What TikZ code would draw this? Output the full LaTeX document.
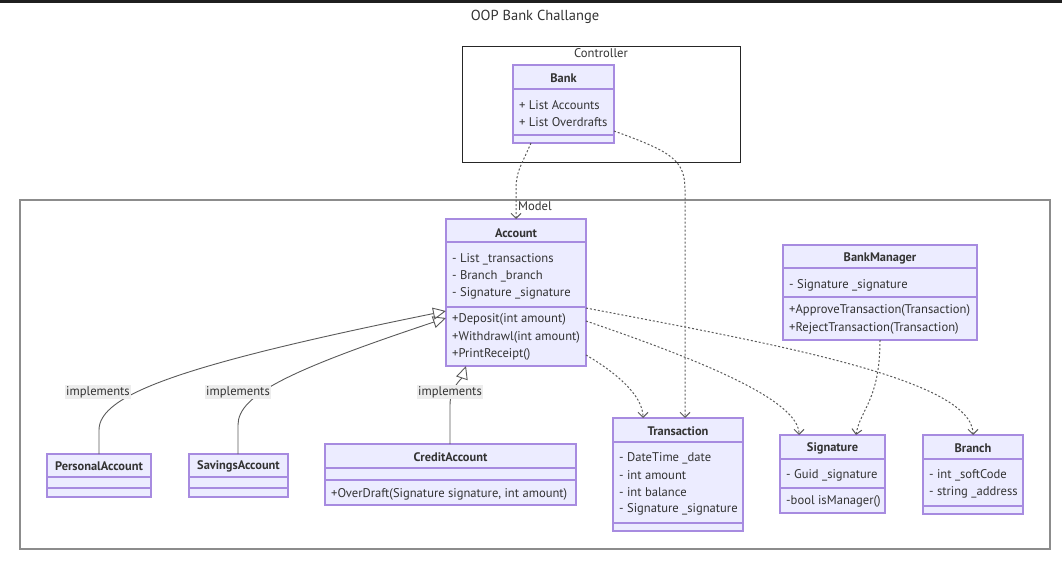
\documentclass[tikz,border=0pt]{standalone}
\usepackage{fontspec}
\setmainfont{PT Sans}
\usepackage{xcolor}
\usepackage{tikz}
\usetikzlibrary{arrows.meta,positioning}
\definecolor{classfill}{HTML}{ECECFF}
\definecolor{classline}{HTML}{A78BE0}
\definecolor{textgrey}{HTML}{333333}
\definecolor{edgegrey}{HTML}{5A5A5A}
\tikzset{classbox/.style={draw=classline, fill=classfill, line width=1.2pt, inner sep=0pt, outer sep=0pt},
    classrule/.style={draw=classline, line width=1.2pt},
    cluster/.style={draw=black!85, line width=1pt, inner sep=0pt, outer sep=0pt},
    member/.style={anchor=west, inner sep=0pt, yshift=-1pt, font=\fontsize{12.6}{14}\selectfont},
    classname/.style={inner sep=0pt, yshift=-1pt, font=\bfseries\fontsize{12.4}{14}\selectfont},
    edgelabel/.style={fill=black!7, inner sep=1.5pt, font=\fontsize{12.6}{14}\selectfont},
    dep/.style={draw=edgegrey, line width=1pt, dash pattern=on 2pt off 2pt, -{Straight Barb[length=5pt, width=10pt]}},
    impl/.style={draw=edgegrey, line width=0.9pt, -{Triangle[open, length=13pt, width=12pt]}}}

\begin{document}
\begin{tikzpicture}[x=1pt, y=-1pt, every node/.style={text=textgrey}]
    \useasboundingbox (0,0) rectangle (1062,571);
    \fill[black!88] (0,0) rectangle (1062,3);

    \node[font=\fontsize{14.5}{16}\selectfont] (title) at (535,17) {OOP Bank Challange};

    % Controller
    \node[cluster, minimum width=278pt, minimum height=116pt] (controller) at (601,104) {};
    \node[anchor=north, inner sep=1pt, font=\fontsize{12.6}{14}\selectfont] at ([yshift=-1pt]controller.north) {Controller};

    \node[classbox, minimum width=101pt, minimum height=78pt] (bank) at (563.5,104) {};
    \draw[classrule] (bank.west |- 0,89) -- (bank.east |- 0,89);
    \draw[classrule] (bank.west |- 0,135) -- (bank.east |- 0,135);
    \node[classname] at (563.5,77) {Bank};
    \node[member] at (519,104) {+ List Accounts};
    \node[member] at (519,121) {+ List Overdrafts};

    % Model
    \node[cluster, draw=black!45, line width=2pt, minimum width=1030pt, minimum height=349pt] (model) at (535,374.5) {};
    \node[anchor=north, inner sep=1pt, font=\fontsize{12.6}{14}\selectfont] at ([yshift=-0.5pt]model.north) {Model};

    \node[classbox, minimum width=140pt, minimum height=147pt] (account) at (516,292.5) {};
    \draw[classrule] (account.west |- 0,242) -- (account.east |- 0,242);
    \draw[classrule] (account.west |- 0,307) -- (account.east |- 0,307);
    \node[classname] at (516,232) {Account};
    \node[member] at (452,258) {- List \_transactions};
    \node[member] at (452,275) {- Branch \_branch};
    \node[member] at (452,292) {- Signature \_signature};
    \node[member] at (452,318) {+Deposit(int amount)};
    \node[member] at (452,336) {+Withdrawl(int amount)};
    \node[member] at (452,353) {+PrintReceipt()};

    \node[classbox, minimum width=194pt, minimum height=95pt] (bankmanager) at (880,292.5) {};
    \draw[classrule] (bankmanager.west |- 0,268) -- (bankmanager.east |- 0,268);
    \draw[classrule] (bankmanager.west |- 0,297) -- (bankmanager.east |- 0,297);
    \node[classname] at (880,257) {BankManager};
    \node[member] at (789,284) {- Signature \_signature};
    \node[member] at (789,309) {+ApproveTransaction(Transaction)};
    \node[member] at (789,327) {+RejectTransaction(Transaction)};

    \node[classbox, minimum width=130pt, minimum height=113pt] (transaction) at (678,474.5) {};
    \draw[classrule] (transaction.west |- 0,442) -- (transaction.east |- 0,442);
    \draw[classrule] (transaction.west |- 0,523) -- (transaction.east |- 0,523);
    \node[classname] at (678,430) {Transaction};
    \node[member] at (619,457) {- DateTime \_date};
    \node[member] at (619,474) {- int amount};
    \node[member] at (619,491) {- int balance};
    \node[member] at (619,508) {- Signature \_signature};

    \node[classbox, minimum width=105pt, minimum height=78pt] (signature) at (832.5,474) {};
    \draw[classrule] (signature.west |- 0,459) -- (signature.east |- 0,459);
    \draw[classrule] (signature.west |- 0,488) -- (signature.east |- 0,488);
    \node[classname] at (832.5,447) {Signature};
    \node[member] at (786,474) {- Guid \_signature};
    \node[member] at (786,500) {-bool isManager()};

    \node[classbox, minimum width=100pt, minimum height=79pt] (branch) at (973,474.5) {};
    \draw[classrule] (branch.west |- 0,459) -- (branch.east |- 0,459);
    \draw[classrule] (branch.west |- 0,506) -- (branch.east |- 0,506);
    \node[classname] at (973,447) {Branch};
    \node[member] at (929,474) {- int \_softCode};
    \node[member] at (929,491) {- string \_address};

    \node[classbox, minimum width=104pt, minimum height=43pt] (personal) at (99,475.5) {};
    \draw[classrule] (personal.west |- 0,477) -- (personal.east |- 0,477);
    \draw[classrule] (personal.west |- 0,488) -- (personal.east |- 0,488);
    \node[classname] at (99,465) {PersonalAccount};

    \node[classbox, minimum width=99pt, minimum height=43pt] (savings) at (238.5,475.5) {};
    \draw[classrule] (savings.west |- 0,477) -- (savings.east |- 0,477);
    \draw[classrule] (savings.west |- 0,488) -- (savings.east |- 0,488);
    \node[classname] at (238.5,465) {SavingsAccount};

    \node[classbox, minimum width=251pt, minimum height=61pt] (credit) at (450.5,474.5) {};
    \draw[classrule] (credit.west |- 0,468) -- (credit.east |- 0,468);
    \draw[classrule] (credit.west |- 0,480) -- (credit.east |- 0,480);
    \node[classname] at (450.5,456) {CreditAccount};
    \node[member] at (331,493) {+OverDraft(Signature signature, int amount)};

    % dependencies
    \draw[dep] (bank.south -| 531,0) .. controls (520,168) and (516,172) .. (516,190) -- (account.north);
    \draw[dep] (bank.east |- 0,131) .. controls (672,152) and (685,160) .. (685,190) -- (transaction.north -| 685,0);
    \draw[dep] (account.east |- 0,355) .. controls (615,372) and (643,395) .. (transaction.north -| 643,0);
    \draw[dep] (account.east |- 0,321) .. controls (700,360) and (799,400) .. (signature.north -| 799,0);
    \draw[dep] (account.east |- 0,308) .. controls (780,345) and (973,380) .. (branch.north);
    \draw[dep] (bankmanager.south) .. controls (880,400) and (860,410) .. (signature.north -| 856,0);

    % realisations
    \draw[impl] (personal.north) -- (99,430) .. controls (99,395) and (180,365) .. (account.west |- 0,311);
    \draw[impl] (savings.north -| 238,0) -- (238,425) .. controls (238,395) and (290,370) .. (account.west |- 0,318);
    \draw[impl] (credit.north -| 450,0) -- (450,405) .. controls (450,388) and (462,378) .. (account.south -| 466,0);
    \node[edgelabel] (implpersonal) at (98,392) {implements};
    \node[edgelabel] (implsavings) at (238,392) {implements};
    \node[edgelabel] (implcredit) at (450,392) {implements};

\end{tikzpicture}
\end{document}
